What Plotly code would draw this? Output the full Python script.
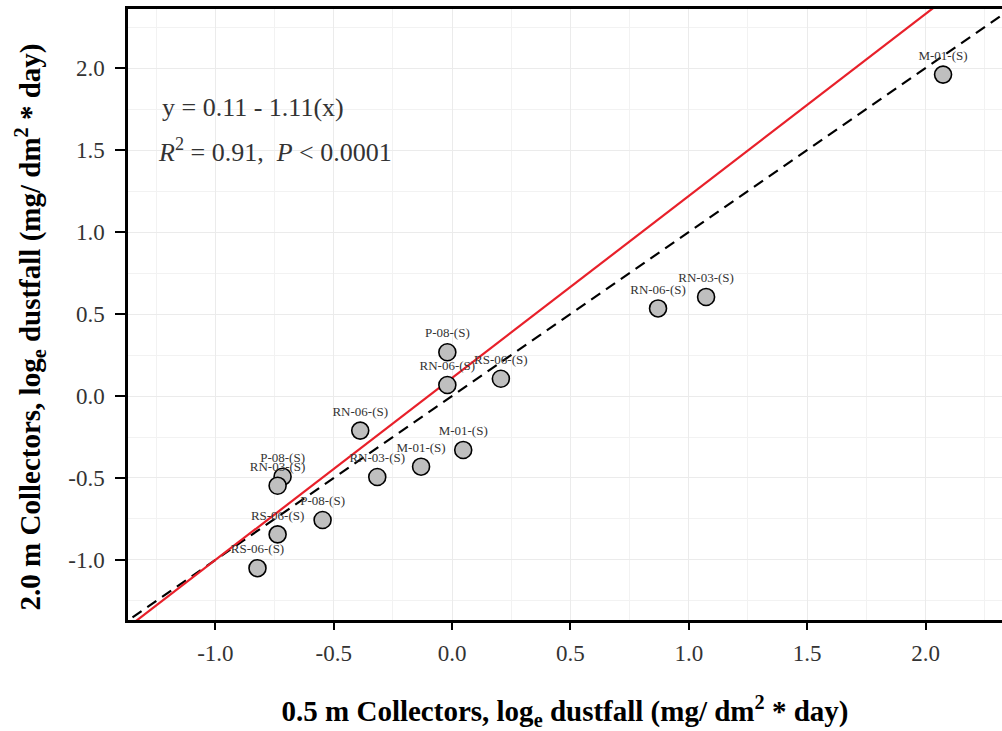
import plotly.graph_objects as go

# Data
site_labels = ["M-01-(S)", "RN-03-(S)", "RN-06-(S)", "P-08-(S)", "RN-06-(S)", "RS-06-(S)",
               "M-01-(S)", "M-01-(S)", "RN-03-(S)", "RN-06-(S)", "P-08-(S)", "RN-03-(S)",
               "P-08-(S)", "RS-06-(S)", "RS-06-(S)"]
x_low = [2.074, 1.073, 0.870, -0.020, -0.020, 0.206,
         0.047, -0.131, -0.316, -0.388, -0.716, -0.737,
         -0.547, -0.737, -0.822]
y_high = [1.960, 0.604, 0.534, 0.267, 0.067, 0.105,
          -0.329, -0.431, -0.494, -0.211, -0.492, -0.547,
          -0.756, -0.844, -1.050]

fit_intercept = 0.11
fit_slope = 1.11
line_x = [-1.6, 2.6]
fit_y = [fit_intercept + fit_slope * v for v in line_x]
one_to_one_y = list(line_x)

tick_vals = [-1.0, -0.5, 0.0, 0.5, 1.0, 1.5, 2.0]
tick_text = ["-1.0", "-0.5", "0.0", "0.5", "1.0", "1.5", "2.0"]

x_range = [-1.369, 2.323]
y_range = [-1.366, 2.36]

SERIF = "Liberation Serif"

fig = go.Figure()

fig.add_trace(go.Scatter(
    x=line_x, y=one_to_one_y, mode="lines",
    line=dict(color="black", width=2.2, dash="11px,7px"),
    hoverinfo="skip", showlegend=False))

fig.add_trace(go.Scatter(
    x=line_x, y=fit_y, mode="lines",
    line=dict(color="#e8202a", width=2.2),
    hoverinfo="skip", showlegend=False))

fig.add_trace(go.Scatter(
    x=x_low, y=y_high, mode="markers+text",
    text=site_labels, textposition="top center",
    textfont=dict(family=SERIF, size=13, color="#333333"),
    marker=dict(size=17, color="#bfbfbf", line=dict(color="black", width=1.6)),
    cliponaxis=False, showlegend=False))

fig.update_layout(
    width=1002, height=731,
    margin=dict(l=128, r=0, t=9, b=111),
    paper_bgcolor="white", plot_bgcolor="white",
    font=dict(family=SERIF, color="#333333"),
    showlegend=False,
)

fig.update_xaxes(
    range=x_range, tickvals=tick_vals, ticktext=tick_text,
    showline=True, linecolor="black", linewidth=2.5, mirror=True,
    ticks="outside", ticklen=7, tickwidth=1.5, tickcolor="black",
    tickfont=dict(family=SERIF, size=23, color="#333333"),
    ticklabelstandoff=4,
    showgrid=True, gridcolor="#ebebeb", gridwidth=1.3,
    minor=dict(dtick=0.25, tick0=0.25, showgrid=True, gridcolor="#f2f2f2", gridwidth=1, ticks=""),
    zeroline=False,
    title=dict(text="<b>0.5 m Collectors, log<sub>e</sub> dustfall (mg/ dm<sup>2</sup> * day)</b>",
               font=dict(family=SERIF, size=29, color="black"), standoff=36),
)

fig.update_yaxes(
    range=y_range, tickvals=tick_vals, ticktext=tick_text,
    showline=True, linecolor="black", linewidth=2.5, mirror=False,
    ticks="outside", ticklen=10, tickwidth=1.5, tickcolor="black",
    tickfont=dict(family=SERIF, size=23, color="#333333"),
    ticklabelstandoff=6,
    showgrid=True, gridcolor="#ebebeb", gridwidth=1.3,
    minor=dict(dtick=0.25, tick0=0.25, showgrid=True, gridcolor="#f2f2f2", gridwidth=1, ticks=""),
    zeroline=False,
)

fig.add_annotation(
    xref="paper", yref="paper", x=-0.112, y=0.479, xanchor="center", yanchor="middle",
    textangle=-90, showarrow=False,
    text="<b>2.0 m Collectors, log<sub>e</sub> dustfall (mg/ dm<sup>2</sup> * day)</b>",
    font=dict(family=SERIF, size=29, color="black"))

fig.add_annotation(
    xref="paper", yref="paper", x=0.037, y=0.838, xanchor="left", yanchor="middle",
    text="y = 0.11 - 1.11(x)", showarrow=False,
    font=dict(family=SERIF, size=26, color="#333333"))
fig.add_annotation(
    xref="paper", yref="paper", x=0.032, y=0.769, xanchor="left", yanchor="middle",
    text="<i>R</i><sup>2</sup> = 0.91,&nbsp; <i>P</i> &lt; 0.0001", showarrow=False,
    font=dict(family=SERIF, size=26, color="#333333"))

fig.write_html("out.html")
